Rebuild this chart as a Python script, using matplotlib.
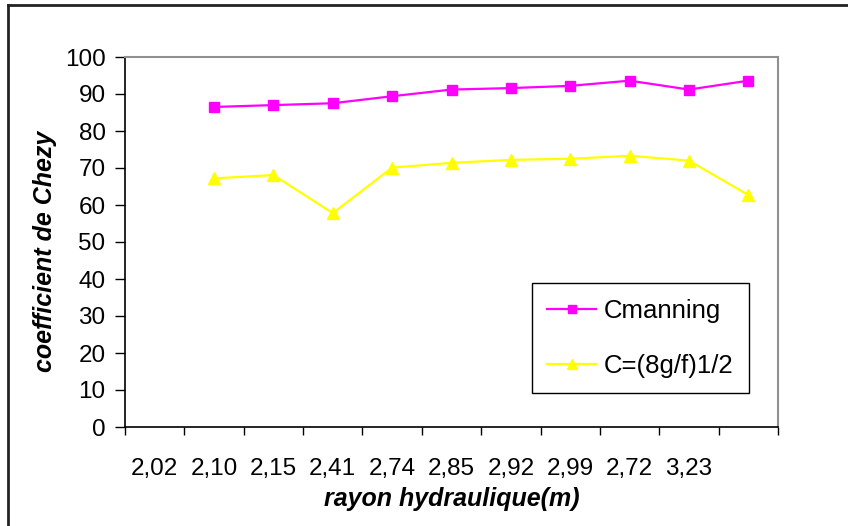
import matplotlib
matplotlib.use("Agg")
import matplotlib.pyplot as plt
import numpy as np
from matplotlib.lines import Line2D

# Data
categories = ["2,02", "2,10", "2,15", "2,41", "2,74", "2,85", "2,92", "2,99", "2,72", "3,23", ""]
cmanning = [None, 86.5, 87.0, 87.5, 89.4, 91.2, 91.6, 92.2, 93.6, 91.2, 93.6]
c_f = [None, 67.2, 68.1, 57.8, 70.1, 71.4, 72.2, 72.5, 73.3, 72.0, 62.7]
yticks = list(range(0, 101, 10))

plt.rcParams['font.family'] = ['Liberation Sans', 'DejaVu Sans']

fig = plt.figure(figsize=(8.48, 5.26), dpi=100)
ax = fig.add_axes([125/848, 1-427/526, 653/848, 370/526])

x = np.arange(len(categories))
cm = np.array([np.nan if v is None else v for v in cmanning], dtype=float)
cf = np.array([np.nan if v is None else v for v in c_f], dtype=float)

ax.plot(x, cm, color="#FF00FF", lw=1.6, marker="s", markersize=7.5, label="Cmanning")
ax.plot(x, cf, color="#FFFF00", lw=1.6, marker="^", markersize=9, label="C=(8g/f)1/2")

ax.set_xlim(-0.5, len(categories) - 0.5)
ax.set_ylim(0, 100)
ax.set_yticks(yticks)
ax.set_yticklabels([str(t) for t in yticks])
ax.tick_params(axis='y', direction='out', length=7, width=1, labelsize=17.5, pad=7)

ax.set_xticks(np.arange(-0.5, len(categories), 1.0))
ax.set_xticklabels([])
ax.set_xticks(x, minor=True)
ax.set_xticklabels(categories, minor=True)
ax.tick_params(axis='x', which='major', direction='out', length=6, width=1)
ax.tick_params(axis='x', which='minor', length=0, labelsize=17.5, pad=22)

for s in ['top', 'right']:
    ax.spines[s].set_color('#909090')
    ax.spines[s].set_linewidth(1.5)
for s in ['left', 'bottom']:
    ax.spines[s].set_color('black')
    ax.spines[s].set_linewidth(1.2)

ax.set_ylabel("coefficient de Chezy", fontsize=18, fontweight='bold', fontstyle='italic')
ax.yaxis.set_label_coords(-125/653 + 57/653, (427-251)/370)
ax.set_xlabel("rayon hydraulique(m)", fontsize=18, fontweight='bold', fontstyle='italic')
ax.xaxis.set_label_coords(0.5, -(487-427)/370)

leg = ax.legend(loc='lower left', bbox_to_anchor=(0.623, 0.092), fontsize=18.5,
                frameon=True, fancybox=False, edgecolor='black', framealpha=1,
                borderpad=0.6, labelspacing=1.2, handlelength=1.9, handletextpad=0.3,
                borderaxespad=0, markerscale=0.85)
leg.get_frame().set_linewidth(1.0)

# outer chart border
fig.add_artist(Line2D([8/848, 8/848], [0, 1-5/526], transform=fig.transFigure, color='#222222', lw=2))
fig.add_artist(Line2D([8/848, 1], [1-5/526, 1-5/526], transform=fig.transFigure, color='#222222', lw=2))

fig.savefig("out.png", dpi=100)
